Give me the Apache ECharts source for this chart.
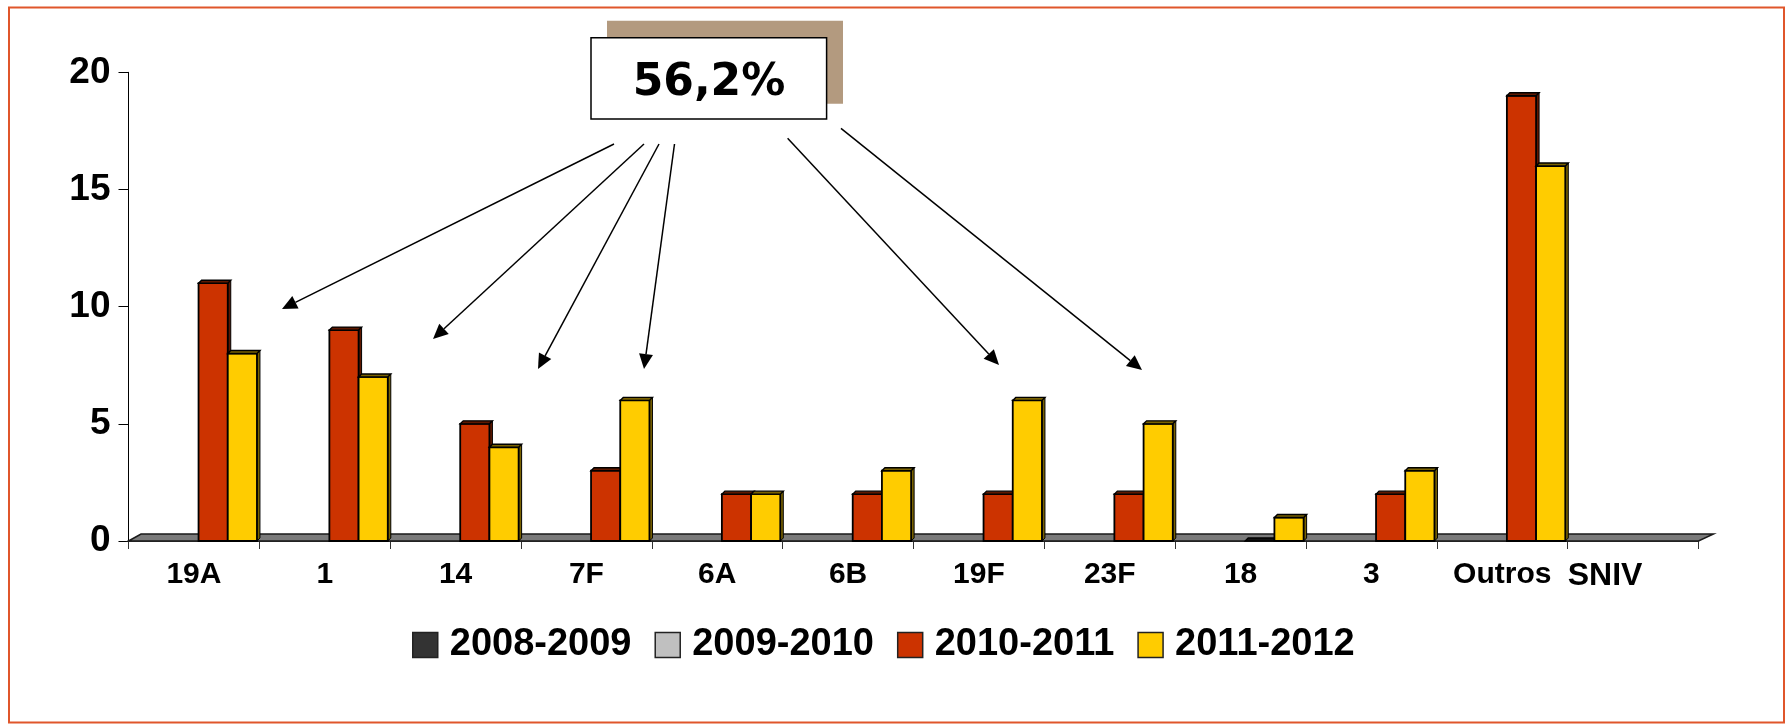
<!DOCTYPE html>
<html>
<head>
<meta charset="utf-8">
<script src="https://cdn.jsdelivr.net/npm/echarts@6/dist/echarts.min.js"></script>
<style>
  html, body { margin: 0; padding: 0; background: #fff; }
  #chart { width: 1791px; height: 728px; }
</style>
</head>
<body>
<div id="chart"></div>
<script>
// serotypes on the x axis
const categories = ['19A', '1', '14', '7F', '6A', '6B', '19F', '23F', '18', '3', 'Outros', 'SNIV'];

// one array per season (null = no bar)
const season0809 = [null, null, null, null, null, null, null, null, null, null, null, null];
const season0910 = [null, null, null, null, null, null, null, null, null, null, null, null];
const season1011 = [11, 9, 5, 3, 2, 2, 2, 2, 0, 2, 19, null];
const season1112 = [8, 7, 4, 6, 2, 3, 6, 5, 1, 3, 16, null];

const yTicks = [0, 5, 10, 15, 20];
const calloutText = '56,2%';

const seasons = [
  { name: '2008-2009', data: season0809, color: '#333333', dark: '#111111' },
  { name: '2009-2010', data: season0910, color: '#C0C0C0', dark: '#808080' },
  { name: '2010-2011', data: season1011, color: '#CC3300', dark: '#5e1800' },
  { name: '2011-2012', data: season1112, color: '#FFCC00', dark: '#7a6200' },
];

const FONT = '"Liberation Sans", Arial, sans-serif';
const DEPTH = 3;

// bar with a small 3D top and side face, like the old Excel look
const makeRender = (si, season) => (params, api) => {
  const v = api.value(1);
  if (v == null || isNaN(v)) return;
  const idx = api.value(0);
  const base = api.coord([idx, 0]);
  const top = api.coord([idx, v]);
  const band = api.size([1, 0])[0];
  const bw = band * 0.2232;
  const x0 = base[0] - band * 0.411 + si * bw;
  const x1 = x0 + bw;
  const ty = top[1];
  const by = base[1];
  const d = DEPTH;
  const children = [];
  if (by - ty > 0.5) {
    children.push({
      type: 'polygon',
      shape: { points: [[x1, ty], [x1 + d, ty - d], [x1 + d, by - d], [x1, by]] },
      style: { fill: season.dark, stroke: '#000', lineWidth: 1 },
    });
    children.push({
      type: 'rect',
      shape: { x: x0, y: ty, width: bw, height: by - ty },
      style: { fill: season.color, stroke: '#000', lineWidth: 1.8 },
    });
  }
  children.push({
    type: 'polygon',
    shape: { points: [[x0, ty], [x0 + d, ty - d], [x1 + d, ty - d], [x1, ty]] },
    style: { fill: by - ty > 0.5 ? season.dark : '#111', stroke: '#000', lineWidth: 1.4 },
  });
  return { type: 'group', children: children };
};

const chart = echarts.init(document.getElementById('chart'));

const option = {
  backgroundColor: '#fff',
  animation: false,
  grid: {
    left: 128.5,
    right: 92.5,
    top: 72.3,
    bottom: 187,
    containLabel: false,
    outerBoundsMode: 'none',
  },
  legend: {
    show: true,
    left: 412,
    top: 626,
    padding: 0,
    icon: 'rect',
    itemWidth: 25,
    itemHeight: 25,
    itemGap: 23,
    itemStyle: { borderColor: '#222', borderWidth: 1.5 },
    textStyle: {
      color: '#000',
      fontSize: 38,
      fontWeight: 'bold',
      fontFamily: FONT,
      padding: [0, 0, 0, 7],
    },
    data: seasons.map((s) => ({ name: s.name, itemStyle: { color: s.color } })),
  },
  xAxis: {
    type: 'category',
    data: categories,
    boundaryGap: true,
    axisLine: { show: true, lineStyle: { color: '#000', width: 1.5 } },
    axisTick: { show: true, length: 8, alignWithLabel: false, lineStyle: { color: '#333', width: 1 } },
    splitLine: { show: false },
    axisLabel: {
      interval: 0,
      margin: 19,
      color: '#000',
      fontSize: 30,
      fontWeight: 'bold',
      fontFamily: FONT,
      formatter: (v) => (v === 'SNIV' ? '{s|SNIV}' : v),
      rich: {
        s: { fontSize: 32, fontWeight: 'bold', fontFamily: FONT, color: '#000', padding: [0, 56, 0, 0] },
      },
    },
  },
  yAxis: {
    type: 'value',
    min: yTicks[0],
    max: yTicks[yTicks.length - 1],
    interval: yTicks[1] - yTicks[0],
    axisLine: { show: true, lineStyle: { color: '#000', width: 1 } },
    axisTick: { show: true, length: 10, lineStyle: { color: '#000', width: 1 } },
    splitLine: { show: false },
    axisLabel: {
      margin: 18,
      color: '#000',
      fontSize: 37,
      fontWeight: 'bold',
      fontFamily: FONT,
    },
  },
  series: seasons.map((s, si) => ({
    type: 'custom',
    name: s.name,
    renderItem: makeRender(si, s),
    itemStyle: { color: s.color },
    encode: { x: 0, y: 1 },
    data: s.data.map((v, i) => [i, v]),
    z: 3,
  })),
};

chart.setOption(option);

// annotation arrows: [from, to] in pixels
const arrows = [
  [[614, 144], [282, 309]],
  [[644, 144], [433, 339]],
  [[659, 144], [538, 369]],
  [[674.5, 144], [644, 369]],
  [[787.6, 138.3], [999, 365]],
  [[841, 128.3], [1142, 370]],
];

const arrowEls = (p, q) => {
  const dx = q[0] - p[0];
  const dy = q[1] - p[1];
  const len = Math.hypot(dx, dy);
  const ux = dx / len;
  const uy = dy / len;
  const hl = 15;
  const hw = 7;
  const bx = q[0] - ux * hl;
  const by = q[1] - uy * hl;
  return [
    { type: 'line', z: 50, shape: { x1: p[0], y1: p[1], x2: bx, y2: by }, style: { stroke: '#000', lineWidth: 1.5 } },
    {
      type: 'polygon', z: 50,
      shape: { points: [q, [bx - uy * hw, by + ux * hw], [bx + uy * hw, by - ux * hw]] },
      style: { fill: '#000' },
    },
  ];
};

// 3D floor under the bars, taken from the axis scale
const c0 = chart.convertToPixel({ xAxisIndex: 0 }, 0);
const c1 = chart.convertToPixel({ xAxisIndex: 0 }, 1);
const band = c1 - c0;
const floorLeft = c0 - band / 2;
const floorRight = floorLeft + band * categories.length;
const floorY = chart.convertToPixel({ yAxisIndex: 0 }, 0);

const graphics = [
  {
    type: 'polygon', z: 1,
    shape: { points: [[floorLeft, floorY], [floorLeft + 12.5, floorY - 7], [floorRight + 15, floorY - 7], [floorRight, floorY]] },
    style: { fill: '#7a7a7a', stroke: '#1a1a1a', lineWidth: 1.5 },
  },
  {
    type: 'rect', z: 1,
    shape: { x: 9, y: 7.5, width: 1775, height: 715 },
    style: { fill: 'none', stroke: '#E0562B', lineWidth: 2 },
  },
  // callout box with its shadow
  {
    type: 'rect', z: 60,
    shape: { x: 607, y: 20.7, width: 236, height: 83 },
    style: { fill: '#B39A7F' },
  },
  {
    type: 'rect', z: 61,
    shape: { x: 591, y: 37.7, width: 235.6, height: 81.3 },
    style: { fill: '#fff', stroke: '#000', lineWidth: 1.5 },
  },
  {
    type: 'text', z: 62,
    x: 709, y: 84,
    style: {
      text: calloutText,
      fill: '#000',
      font: 'bold 44px "DejaVu Sans", sans-serif',
      align: 'center',
      verticalAlign: 'middle',
    },
  },
];
arrows.forEach(([p, q]) => graphics.push(...arrowEls(p, q)));

chart.setOption({ graphic: graphics });
</script>
</body>
</html>
